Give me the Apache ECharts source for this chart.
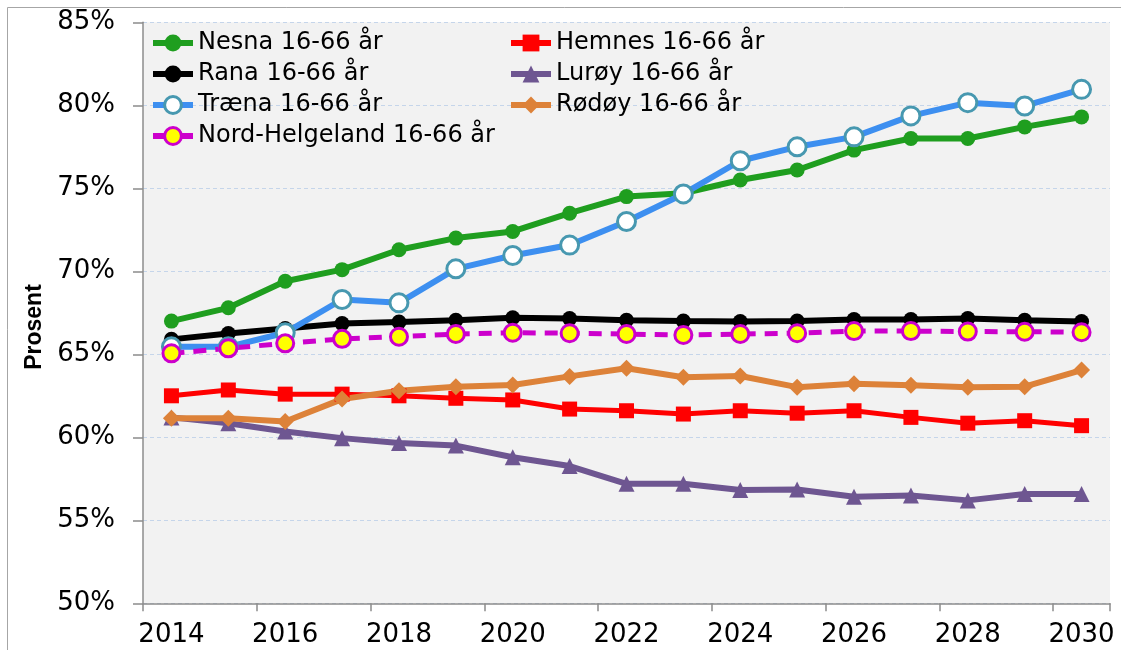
<!DOCTYPE html>
<html>
<head>
<meta charset="utf-8">
<script src="https://cdn.jsdelivr.net/npm/echarts@6/dist/echarts.min.js"></script>
<style>
  html, body { margin: 0; padding: 0; background: #fff; }
  #main { width: 1121px; height: 650px; }
</style>
</head>
<body>
<div id="main"></div>
<script>
// år på x-aksen
var years = ['2014', '2015', '2016', '2017', '2018', '2019', '2020', '2021', '2022',
  '2023', '2024', '2025', '2026', '2027', '2028', '2029', '2030'];

// andel 16-66 år, prosent (lest av figuren)
var nesna = [67.0, 67.8, 69.4, 70.1, 71.3, 72.0, 72.4, 73.5, 74.5, 74.7, 75.5, 76.1, 77.3, 78.0, 78.0, 78.7, 79.3];
var hemnes = [62.5, 62.85, 62.6, 62.6, 62.5, 62.35, 62.25, 61.7, 61.6, 61.4, 61.6, 61.45, 61.6, 61.2, 60.85, 61.0, 60.7];
var rana = [65.9, 66.25, 66.55, 66.85, 66.95, 67.05, 67.2, 67.15, 67.05, 67.0, 66.98, 67.0, 67.1, 67.1, 67.15, 67.05, 66.98];
var luroy = [61.2, 60.85, 60.35, 59.95, 59.65, 59.5, 58.8, 58.27, 57.2, 57.2, 56.83, 56.85, 56.42, 56.5, 56.2, 56.58, 56.58];
var traena = [65.45, 65.45, 66.3, 68.3, 68.1, 70.15, 70.95, 71.58, 73.0, 74.66, 76.66, 77.5, 78.1, 79.36, 80.16, 79.96, 80.96];
var rodoy = [61.15, 61.15, 60.95, 62.3, 62.8, 63.05, 63.15, 63.67, 64.16, 63.62, 63.69, 63.02, 63.22, 63.13, 63.01, 63.05, 64.05];
var nordHelgeland = [65.06, 65.36, 65.66, 65.93, 66.06, 66.22, 66.3, 66.27, 66.22, 66.16, 66.22, 66.27, 66.4, 66.4, 66.37, 66.36, 66.33];

var seriesNames = ['Nesna 16-66 år', 'Hemnes 16-66 år', 'Rana 16-66 år', 'Lurøy 16-66 år',
  'Træna 16-66 år', 'Rødøy 16-66 år', 'Nord-Helgeland 16-66 år'];

var yTicks = { min: 50, max: 85, step: 5 };

var font = 'DejaVu Sans';

var chart = echarts.init(document.getElementById('main'), null, { renderer: 'canvas' });

function lineSeries(name, data, color, symbol, size, lw, extra) {
  var s = {
    name: name,
    type: 'line',
    data: data,
    symbol: symbol,
    symbolSize: size,
    showSymbol: true,
    animation: false,
    lineStyle: { color: color, width: lw },
    itemStyle: { color: color, opacity: 1 },
    emphasis: { disabled: true }
  };
  if (extra) {
    if (extra.lineType) s.lineStyle.type = extra.lineType;
    if (extra.fill) {
      s.itemStyle.color = extra.fill;
      s.itemStyle.borderColor = extra.border;
      s.itemStyle.borderWidth = extra.borderWidth;
    }
  }
  return s;
}

var legendCommon = {
  orient: 'vertical',
  itemWidth: 40,
  itemHeight: 21,
  itemGap: 7,
  textStyle: { fontFamily: font, fontSize: 24, color: '#000', lineHeight: 24 },
  lineStyle: { type: 'solid', width: 6 },
  itemStyle: { borderWidth: 3 },
  selectedMode: false
};

var option = {
  animation: false,
  backgroundColor: '#ffffff',
  graphic: [
    {
      type: 'rect',
      shape: { x: 7.5, y: 7.5, width: 1300, height: 800 },
      style: { fill: 'none', stroke: '#a6a6a6', lineWidth: 1 },
      z: -10
    },
    {
      type: 'text',
      x: 35,
      y: 327,
      rotation: Math.PI / 2,
      style: {
        text: 'Prosent',
        font: 'bold 23px "Liberation Sans"',
        fill: '#000',
        align: 'center',
        verticalAlign: 'middle'
      }
    }
  ],
  legend: [
    Object.assign({}, legendCommon, {
      left: 145,
      top: 26,
      data: [seriesNames[0], seriesNames[2], seriesNames[4], seriesNames[6]]
    }),
    Object.assign({}, legendCommon, {
      left: 503,
      top: 26,
      data: [seriesNames[1], seriesNames[3], seriesNames[5]]
    })
  ],
  grid: {
    left: 143,
    right: 11,
    top: 22.3,
    bottom: 46.7,
    show: true,
    backgroundColor: '#f2f2f2',
    borderWidth: 0
  },
  xAxis: {
    type: 'category',
    data: years,
    boundaryGap: true,
    axisLine: { show: true, lineStyle: { color: '#8c8c8c', width: 1.5 } },
    axisTick: { show: true, interval: 1, length: 8, lineStyle: { color: '#8c8c8c', width: 1.5 } },
    axisLabel: {
      interval: 1,
      margin: 19,
      fontFamily: font,
      fontSize: 26,
      color: '#000'
    },
    splitLine: { show: false }
  },
  yAxis: {
    type: 'value',
    min: yTicks.min,
    max: yTicks.max,
    interval: yTicks.step,
    axisLine: { show: true, lineStyle: { color: '#8c8c8c', width: 1.5 } },
    axisTick: { show: true, inside: false, length: 10, lineStyle: { color: '#8c8c8c', width: 1.5 } },
    axisLabel: {
      margin: 28,
      fontFamily: font,
      fontSize: 26,
      color: '#000',
      formatter: '{value}%'
    },
    splitLine: { show: true, lineStyle: { color: '#c5d5ea', type: [4, 3], width: 1 } }
  },
  series: [
    lineSeries(seriesNames[0], nesna, '#1f9e1f', 'circle', 15, 6),
    lineSeries(seriesNames[1], hemnes, '#ff0000', 'rect', 15, 5),
    lineSeries(seriesNames[2], rana, '#000000', 'circle', 15, 6),
    lineSeries(seriesNames[3], luroy, '#6e5691', 'triangle', 16, 6),
    lineSeries(seriesNames[4], traena, '#3d8ff0', 'circle', 18, 6,
      { fill: '#ffffff', border: '#4798b0', borderWidth: 3 }),
    lineSeries(seriesNames[5], rodoy, '#dd8239', 'diamond', 17, 6),
    lineSeries(seriesNames[6], nordHelgeland, '#cc00cc', 'circle', 17, 5,
      { lineType: [13, 9], fill: '#ffff00', border: '#cc00cc', borderWidth: 3 })
  ]
};

chart.setOption(option);
</script>
</body>
</html>
